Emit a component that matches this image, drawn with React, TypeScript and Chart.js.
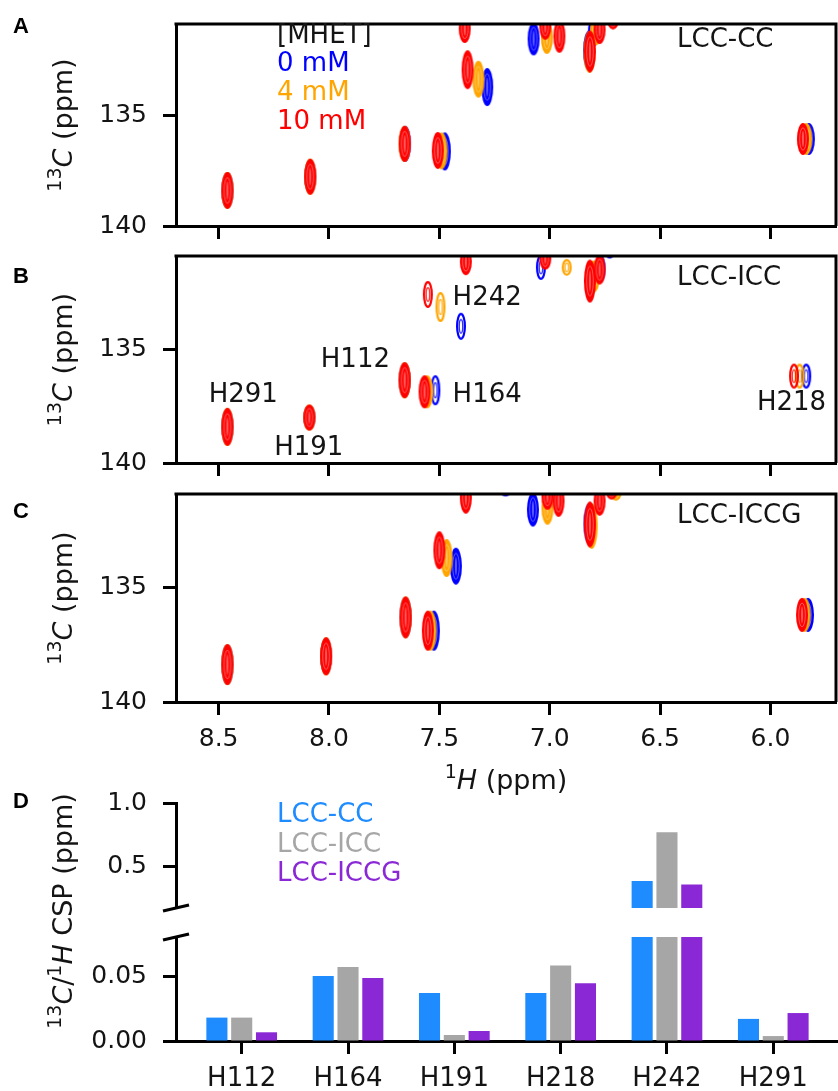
import React, { useEffect, useRef } from 'react';
import { Chart, registerables } from 'chart.js';

Chart.register(...registerables);

const FONT = "'DejaVu Sans', 'Noto Sans', sans-serif";
const BOLD_FONT = "'Liberation Sans', Arial, sans-serif";
const W = 860;
const H = 1091;
const TEXT = '#141414';

// ---------------- data ----------------
// MHET concentrations (drawn bottom-to-top: 0 mM, 4 mM, 10 mM)
const concLabels = ['10 mM', '4 mM', '0 mM'];
const concColors = ['#ff0000', '#ffa500', '#0000ff'];

// peaks: [1H ppm, 13C ppm, 13C extent (ppm), strong=1 / weak=0]
const peaksA_10mM = [
  [8.46, 138.4, 1.65, 1], [8.085, 137.78, 1.6, 1], [7.657, 136.3, 1.6, 1],
  [7.507, 136.6, 1.65, 1], [7.372, 132.96, 1.75, 1], [5.853, 136.08, 1.45, 1],
  [7.385, 131.1, 1.3, 1], [7.02, 131.0, 1.2, 1], [6.956, 131.45, 1.5, 1],
  [6.818, 132.14, 1.9, 1], [6.774, 131.15, 1.3, 1], [6.713, 130.7, 0.9, 1],
];
const peaksA_4mM = [
  [8.46, 138.4, 1.65, 1], [8.085, 137.78, 1.6, 1], [7.657, 136.3, 1.6, 1],
  [7.49, 136.62, 1.65, 1], [7.323, 133.39, 1.65, 1], [5.838, 136.08, 1.45, 1],
  [7.013, 131.5, 1.5, 1], [6.79, 131.2, 1.3, 1], [6.82, 132.16, 1.9, 1],
];
const peaksA_0mM = [
  [8.46, 138.4, 1.6, 1], [8.085, 137.78, 1.55, 1], [7.655, 136.3, 1.6, 1],
  [7.475, 136.64, 1.7, 1], [7.283, 133.74, 1.7, 1], [5.826, 136.08, 1.45, 1],
  [7.073, 131.57, 1.5, 1], [6.8, 131.25, 1.3, 1], [6.822, 132.1, 1.8, 1],
];

const peaksB_10mM = [
  [8.46, 138.41, 1.65, 1], [8.089, 138.0, 1.15, 1], [7.657, 136.36, 1.6, 1],
  [7.567, 136.87, 1.45, 1], [7.552, 132.59, 1.2, 0], [5.893, 136.18, 1.1, 0],
  [7.38, 131.15, 1.2, 1], [7.02, 131.0, 1.0, 1], [6.818, 132.0, 1.9, 1],
  [6.774, 131.5, 1.3, 1],
];
const peaksB_4mM = [
  [8.46, 138.41, 1.65, 1], [8.089, 138.0, 1.15, 1], [7.657, 136.36, 1.6, 1],
  [7.555, 136.87, 1.45, 1], [7.495, 133.14, 1.3, 0], [5.868, 136.18, 1.1, 0],
  [6.923, 131.4, 0.75, 0], [6.8, 131.8, 1.4, 1],
];
const peaksB_0mM = [
  [8.46, 138.41, 1.6, 1], [8.089, 138.0, 1.1, 1], [7.657, 136.36, 1.55, 1],
  [7.518, 136.8, 1.3, 0], [7.402, 133.99, 1.2, 0], [5.838, 136.18, 1.1, 0],
  [7.04, 131.4, 1.1, 0], [6.77, 131.45, 1.2, 0], [6.728, 130.7, 0.6, 0],
];

const peaksC_10mM = [
  [8.46, 138.36, 1.8, 1], [8.013, 138.0, 1.65, 1], [7.653, 136.3, 1.85, 1],
  [7.552, 136.88, 1.75, 1], [7.5, 133.36, 1.65, 1], [5.857, 136.19, 1.5, 1],
  [7.38, 131.06, 1.4, 1], [7.01, 131.0, 1.2, 1], [6.96, 131.2, 1.4, 1],
  [6.818, 132.23, 2.0, 1], [6.774, 131.2, 1.3, 1], [6.72, 130.75, 0.8, 1],
];
const peaksC_4mM = [
  [8.46, 138.36, 1.8, 1], [8.013, 138.0, 1.65, 1], [7.653, 136.3, 1.85, 1],
  [7.54, 136.88, 1.75, 1], [7.467, 133.7, 1.65, 1], [5.845, 136.19, 1.5, 1],
  [7.01, 131.5, 1.5, 1], [6.81, 132.3, 2.0, 1], [6.7, 130.8, 0.8, 1],
];
const peaksC_0mM = [
  [8.46, 138.36, 1.75, 1], [8.013, 138.0, 1.6, 1], [7.653, 136.3, 1.8, 1],
  [7.525, 136.88, 1.75, 1], [7.425, 134.06, 1.6, 1], [5.83, 136.19, 1.5, 1],
  [7.076, 131.58, 1.5, 1], [7.2, 130.7, 0.6, 1], [6.82, 132.2, 1.8, 1],
];

// axis ranges and ticks for the HSQC panels
const H_LEFT = 8.693;
const H_RIGHT = 5.703;
const C_TOP = 130.9;
const C_BOTTOM = 140;
const xTicksH = [8.5, 8.0, 7.5, 7.0, 6.5, 6.0];
const yTicksC = [135, 140];

// residue labels in panel B (anchored at 1H / 13C ppm)
const annotB_labels = ['H242', 'H164', 'H218', 'H112', 'H291', 'H191'];
const annotB_x = [7.44, 7.44, 6.061, 8.037, 8.545, 8.248];
const annotB_y = [133.07, 137.34, 137.68, 135.8, 137.31, 139.65];

// panel D: CSP values
const residues = ['H112', 'H164', 'H191', 'H218', 'H242', 'H291'];
const variants = ['LCC-CC', 'LCC-ICC', 'LCC-ICCG'];
const variantColors = ['#1e8cff', '#a6a6a6', '#8b28d6'];
const cspCC = [0.018, 0.05, 0.037, 0.037, 0.381, 0.017];
const cspICC = [0.018, 0.057, 0.0046, 0.058, 0.767, 0.0038];
const cspICCG = [0.0067, 0.0485, 0.0077, 0.0444, 0.354, 0.0215];
const upperTicks = [0.5, 1.0];
const lowerTicks = [0.0, 0.05];
const UPPER_MIN = 0.167;
const UPPER_MAX = 1.0;
const LOWER_MIN = 0;
const LOWER_MAX = 0.08;
const CAT_MIN = -0.618;
const CAT_MAX = 5.637;

// ---------------- helpers ----------------
Chart.defaults.font.family = FONT;

const imgCache = new Map<string, HTMLCanvasElement>();
function peakImage(color: string, hpx: number, strong: boolean): HTMLCanvasElement {
  const ph = Math.max(8, Math.round(hpx));
  const pw = strong ? 12 : 10;
  const key = `${color}|${ph}|${strong}`;
  const hit = imgCache.get(key);
  if (hit) return hit;
  const c = document.createElement('canvas');
  c.width = pw + 2;
  c.height = ph + 2;
  const g = c.getContext('2d')!;
  const cx = c.width / 2;
  const cy = c.height / 2;
  const rx = pw / 2;
  const ry = ph / 2;
  const ell = (fx: number, fy: number) => {
    g.beginPath();
    g.ellipse(cx, cy, rx * fx, ry * fy, 0, 0, Math.PI * 2);
  };
  if (strong) {
    g.fillStyle = color;
    ell(1, 1);
    g.fill();
    g.strokeStyle = 'rgba(255,255,255,0.45)';
    g.lineWidth = 0.8;
    ell(0.55, 0.7);
    g.stroke();
    g.fillStyle = 'rgba(255,255,255,0.35)';
    ell(0.18, 0.5);
    g.fill();
  } else {
    g.strokeStyle = color;
    g.lineWidth = 2.2;
    ell((rx - 1.1) / rx, (ry - 1.1) / ry);
    g.stroke();
    g.globalAlpha = 0.8;
    g.lineWidth = 1.4;
    ell(0.35, 0.5);
    g.stroke();
  }
  imgCache.set(key, c);
  return c;
}

function peakStyle(c: any, color: string): any {
  const raw = c && c.raw;
  if (!raw) return 'circle';
  const ys = c.chart.scales.y;
  let hp = Math.abs(ys.getPixelForValue(raw.y + raw.h) - ys.getPixelForValue(raw.y));
  if (!isFinite(hp) || hp <= 0) hp = raw.h * 23;
  return peakImage(color, hp, raw.s === 1);
}

type Part = { t: string; sup?: boolean; it?: boolean };
function partFont(p: Part, size: number) {
  return `${p.it ? 'italic ' : ''}${p.sup ? Math.round(size * 0.7) : size}px ${FONT}`;
}
function drawRich(ctx: CanvasRenderingContext2D, parts: Part[], x: number, y: number, size: number, rotate: boolean, color: string) {
  ctx.save();
  ctx.translate(x, y);
  if (rotate) ctx.rotate(-Math.PI / 2);
  let total = 0;
  for (const p of parts) {
    ctx.font = partFont(p, size);
    total += ctx.measureText(p.t).width;
  }
  let cx = -total / 2;
  ctx.fillStyle = color;
  ctx.textAlign = 'left';
  ctx.textBaseline = 'alphabetic';
  for (const p of parts) {
    ctx.font = partFont(p, size);
    ctx.fillText(p.t, cx, p.sup ? -size * 0.4 : 0);
    cx += ctx.measureText(p.t).width;
  }
  ctx.restore();
}
function drawText(ctx: CanvasRenderingContext2D, t: string, x: number, y: number, size: number, color: string, bold = false) {
  ctx.save();
  ctx.font = bold ? `bold ${size}px ${BOLD_FONT}` : `${size}px ${FONT}`;
  ctx.fillStyle = color;
  ctx.textAlign = 'left';
  ctx.textBaseline = 'alphabetic';
  ctx.fillText(t, x, y);
  ctx.restore();
}

const ylabelC: Part[] = [{ t: '13', sup: true }, { t: 'C', it: true }, { t: ' (ppm)' }];
const xlabelH: Part[] = [{ t: '1', sup: true }, { t: 'H', it: true }, { t: ' (ppm)' }];
const ylabelCSP: Part[] = [
  { t: '13', sup: true }, { t: 'C', it: true }, { t: '/' }, { t: '1', sup: true }, { t: 'H', it: true }, { t: ' CSP (ppm)' },
];

const tickGrid = { display: true, drawOnChartArea: false, drawTicks: true, tickLength: 13, tickWidth: 3, tickColor: '#000' };
const axisBorder = { display: true, width: 3, color: '#000' };
const zeroPad = (s: any) => {
  s.paddingTop = 0;
  s.paddingBottom = 0;
  s.paddingLeft = 0;
  s.paddingRight = 0;
};

const X_AXIS_H = 70;
const LETTER_SIZE = 22;

function buildNmr(canvas: HTMLCanvasElement, peaks: number[][][], top: number, bottom: number, showX: boolean, annotate: (chart: any) => void) {
  return new Chart(canvas, {
    type: 'scatter',
    data: {
      datasets: peaks.map((arr, i) => ({
        label: concLabels[i],
        data: arr.map(([x, y, h, s]) => ({ x, y, h, s })),
        pointStyle: (c: any) => peakStyle(c, concColors[i]),
        pointRadius: 24,
        pointBorderWidth: 0,
        clip: 0,
      })),
    } as any,
    options: {
      responsive: false,
      animation: false,
      events: [],
      layout: { padding: { top, right: W - 841, bottom: H - bottom - X_AXIS_H, left: 0 } },
      plugins: { legend: { display: false }, tooltip: { enabled: false } },
      scales: {
        x: {
          type: 'linear',
          reverse: true,
          min: H_RIGHT,
          max: H_LEFT,
          afterBuildTicks: (s: any) => { s.ticks = xTicksH.map((v) => ({ value: v })); },
          afterFit: (s: any) => { s.height = X_AXIS_H; zeroPad(s); },
          ticks: {
            display: showX,
            callback: (v: any) => Number(v).toFixed(1),
            font: { family: FONT, size: 25 },
            color: TEXT,
            padding: 9,
            maxRotation: 0,
            autoSkip: false,
          },
          grid: tickGrid,
          border: axisBorder,
        },
        y: {
          type: 'linear',
          reverse: true,
          min: C_TOP,
          max: C_BOTTOM,
          afterBuildTicks: (s: any) => { s.ticks = yTicksC.map((v) => ({ value: v })); },
          afterFit: (s: any) => { s.width = 176; zeroPad(s); },
          ticks: { callback: (v: any) => String(v), font: { family: FONT, size: 25 }, color: TEXT, padding: 16 },
          grid: tickGrid,
          border: axisBorder,
        },
      },
    } as any,
    plugins: [
      {
        id: 'frameAndText',
        afterDraw(chart: any) {
          const { ctx, chartArea: a } = chart;
          ctx.save();
          ctx.strokeStyle = '#000';
          ctx.lineWidth = 3;
          ctx.beginPath();
          ctx.moveTo(a.left - 1.5, a.top);
          ctx.lineTo(a.right, a.top);
          ctx.lineTo(a.right, a.bottom);
          ctx.stroke();
          ctx.restore();
          drawRich(ctx, ylabelC, 72, (a.top + a.bottom) / 2, 27, true, TEXT);
          annotate(chart);
        },
      },
    ],
  });
}

const buildA = (canvas: HTMLCanvasElement) =>
  buildNmr(canvas, [peaksA_10mM, peaksA_4mM, peaksA_0mM], 17, 226, false, (chart) => {
    const ctx = chart.ctx;
    drawText(ctx, 'A', 13, 33, LETTER_SIZE, '#000', true);
    drawText(ctx, '[MHET]', 277, 43, 26, TEXT);
    for (let k = 0; k < 3; k++) {
      const i = 2 - k;
      drawText(ctx, concLabels[i], 277, 71 + k * 29, 26, concColors[i]);
    }
    drawText(ctx, 'LCC-CC', 677, 47, 26, TEXT);
  });

const buildB = (canvas: HTMLCanvasElement) =>
  buildNmr(canvas, [peaksB_10mM, peaksB_4mM, peaksB_0mM], 256, 463, false, (chart) => {
    const ctx = chart.ctx;
    drawText(ctx, 'B', 13, 283, LETTER_SIZE, '#000', true);
    drawText(ctx, 'LCC-ICC', 677, 285, 26, TEXT);
    const xs = chart.scales.x;
    const ys = chart.scales.y;
    annotB_labels.forEach((t, k) => {
      drawText(ctx, t, xs.getPixelForValue(annotB_x[k]), ys.getPixelForValue(annotB_y[k]), 26, TEXT);
    });
  });

const buildC = (canvas: HTMLCanvasElement) =>
  buildNmr(canvas, [peaksC_10mM, peaksC_4mM, peaksC_0mM], 494, 702, true, (chart) => {
    const ctx = chart.ctx;
    const a = chart.chartArea;
    drawText(ctx, 'C', 13, 518, LETTER_SIZE, '#000', true);
    drawText(ctx, 'LCC-ICCG', 677, 523, 26, TEXT);
    drawRich(ctx, xlabelH, (a.left + a.right) / 2, 789, 27, false, TEXT);
  });

const cspSeries = [cspCC, cspICC, cspICCG];

function barDatasets() {
  return cspSeries.map((vals, i) => ({
    label: variants[i],
    data: vals.map((y, k) => ({ x: k, y })),
    backgroundColor: variantColors[i],
    borderWidth: 0,
    categoryPercentage: 0.7,
    barPercentage: 0.85,
    clip: 0,
  }));
}

function drawBreak(ctx: CanvasRenderingContext2D, x: number, y: number) {
  ctx.save();
  ctx.strokeStyle = '#000';
  ctx.lineWidth = 3;
  ctx.beginPath();
  ctx.moveTo(x - 13, y + 3);
  ctx.lineTo(x + 13, y - 3);
  ctx.stroke();
  ctx.restore();
}

const buildDUpper = (canvas: HTMLCanvasElement) =>
  new Chart(canvas, {
    type: 'bar',
    data: { datasets: barDatasets() } as any,
    options: {
      responsive: false,
      animation: false,
      events: [],
      layout: { padding: { top: 803, right: W - 841, bottom: H - 908, left: 0 } },
      plugins: { legend: { display: false }, tooltip: { enabled: false } },
      scales: {
        x: {
          type: 'linear',
          display: false,
          min: CAT_MIN,
          max: CAT_MAX,
          offset: false,
          afterBuildTicks: (s: any) => { s.ticks = residues.map((_, k) => ({ value: k })); },
        },
        y: {
          type: 'linear',
          min: UPPER_MIN,
          max: UPPER_MAX,
          afterBuildTicks: (s: any) => { s.ticks = upperTicks.map((v) => ({ value: v })); },
          afterFit: (s: any) => { s.width = 176; zeroPad(s); },
          ticks: { callback: (v: any) => Number(v).toFixed(1), font: { family: FONT, size: 25 }, color: TEXT, padding: 16 },
          grid: tickGrid,
          border: axisBorder,
        },
      },
    } as any,
    plugins: [
      {
        id: 'upperText',
        afterDraw(chart: any) {
          const { ctx, chartArea: a } = chart;
          variants.forEach((v, i) => drawText(ctx, v, 277, 822 + i * 29.5, 26, variantColors[i]));
          drawBreak(ctx, a.left, a.bottom);
        },
      },
    ],
  });

const buildDLower = (canvas: HTMLCanvasElement) =>
  new Chart(canvas, {
    type: 'bar',
    data: { datasets: barDatasets() } as any,
    options: {
      responsive: false,
      animation: false,
      events: [],
      layout: { padding: { top: 937, right: W - 841, bottom: H - 1041 - 50, left: 0 } },
      plugins: { legend: { display: false }, tooltip: { enabled: false } },
      scales: {
        x: {
          type: 'linear',
          min: CAT_MIN,
          max: CAT_MAX,
          offset: false,
          z: 1,
          afterBuildTicks: (s: any) => { s.ticks = residues.map((_, k) => ({ value: k })); },
          afterFit: (s: any) => { s.height = 50; zeroPad(s); },
          ticks: {
            callback: (v: any) => residues[Math.round(Number(v))],
            font: { family: FONT, size: 26 },
            color: TEXT,
            padding: 10,
            maxRotation: 0,
            autoSkip: false,
          },
          grid: { ...tickGrid, offset: false },
          border: axisBorder,
        },
        y: {
          type: 'linear',
          min: LOWER_MIN,
          max: LOWER_MAX,
          z: 1,
          afterBuildTicks: (s: any) => { s.ticks = lowerTicks.map((v) => ({ value: v })); },
          afterFit: (s: any) => { s.width = 176; zeroPad(s); },
          ticks: { callback: (v: any) => Number(v).toFixed(2), font: { family: FONT, size: 25 }, color: TEXT, padding: 16 },
          grid: tickGrid,
          border: axisBorder,
        },
      },
    } as any,
    plugins: [
      {
        id: 'lowerText',
        afterDraw(chart: any) {
          const { ctx, chartArea: a } = chart;
          drawText(ctx, 'D', 13, 808, LETTER_SIZE, '#000', true);
          drawRich(ctx, ylabelCSP, 72, 911, 27, true, TEXT);
          drawBreak(ctx, a.left, a.top);
        },
      },
    ],
  });

function ChartLayer({ build }: { build: (c: HTMLCanvasElement) => Chart }) {
  const ref = useRef<HTMLCanvasElement | null>(null);
  useEffect(() => {
    if (!ref.current) return;
    const chart = build(ref.current);
    return () => chart.destroy();
  }, [build]);
  return (
    <canvas
      ref={ref}
      width={W}
      height={H}
      style={{ position: 'absolute', left: 0, top: 0, width: W, height: H }}
    />
  );
}

export default function App() {
  return (
    <div
      style={{
        position: 'absolute',
        left: 0,
        top: 0,
        width: 838,
        height: 1091,
        overflow: 'hidden',
        background: '#fff',
      }}
    >
      <ChartLayer build={buildA} />
      <ChartLayer build={buildB} />
      <ChartLayer build={buildC} />
      <ChartLayer build={buildDUpper} />
      <ChartLayer build={buildDLower} />
    </div>
  );
}
